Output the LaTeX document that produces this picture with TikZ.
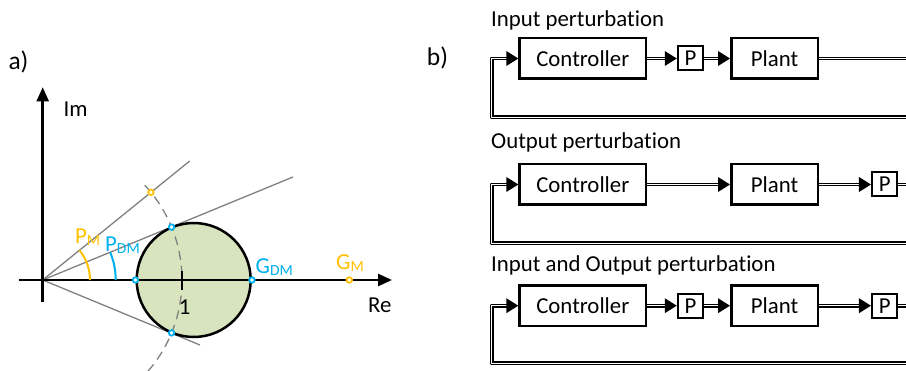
\documentclass[tikz,border=0pt]{standalone}
\usepackage{fontspec}
\setmainfont{Carlito}[Ligatures=NoCommon]
\usetikzlibrary{arrows.meta}
\definecolor{mgold}{HTML}{FFC000}
\definecolor{mblue}{HTML}{00B0F0}
\definecolor{mgreen}{HTML}{D7E4BD}
\definecolor{mgray}{HTML}{808080}
\newcommand\subs[1]{\raisebox{-2pt}{\fontsize{15.5}{15.5}\selectfont #1}}
\newcommand\tipinto[1]{\fill (#1.west) -- ++(-12,7.5) -- ++(0,-15) -- cycle;}
\begin{document}
\begin{tikzpicture}[x=1pt,y=1pt,font=\fontsize{22.8}{27}\selectfont,
  ctrl/.style={draw, line width=2.5pt, minimum width=126.5pt, minimum height=40.5pt, inner sep=0pt},
  plant/.style={draw, line width=2.5pt, minimum width=86.5pt, minimum height=40.5pt, inner sep=0pt},
  pbox/.style={draw, line width=2pt, minimum width=25.5pt, minimum height=24pt, inner sep=0pt},
  dbl/.style={draw=black, double=white, double distance=1.5pt, line width=1.2pt, shorten >=11pt, line join=round},
  axis/.style={line width=2.5pt, -{Triangle[length=14pt,width=12pt]}},
  gline/.style={mgray, line width=1.3pt},
  darc/.style={mgray, line width=1.3pt, dash pattern=on 9pt off 6pt},
  dotb/.style={circle, draw=mblue, fill=white, line width=1.8pt, inner sep=0pt, minimum size=5.5pt},
  doto/.style={circle, draw=mgold, fill=white, line width=1.8pt, inner sep=0pt, minimum size=5.5pt},
  lbl/.style={anchor=base west, inner sep=0pt},
  ttl/.style={anchor=west, inner sep=0pt},
  panel/.style={inner sep=0pt, font=\fontsize{25.5}{30}\selectfont}]
\useasboundingbox (0,0) rectangle (906,370);
\clip (0,0) rectangle (906,370);

% ---------- panel a ----------
\node[panel] (la) at (18.5,308.5) {a)};
\coordinate (O) at (42.7,90);
\coordinate (g1) at (189.6,208.9);
\coordinate (g2) at (293,193);
\coordinate (g3) at (200,25);
\draw[gline] (O) -- (g1);
\draw[gline] (O) -- (g2);
\draw[gline] (O) -- (g3);
\node[circle, draw, fill=mgreen, line width=2.5pt, minimum size=114pt, inner sep=0pt] (disk) at (193.7,90) {};
\draw[darc] (O) ++(-41:139.3) arc[start angle=-41, end angle=44, radius=139.3];
\coordinate (xs) at (19,90);
\coordinate (xe) at (392,90);
\coordinate (ys) at (42.7,68);
\coordinate (ye) at (42.7,282.7);
\draw[axis] (xs) -- (xe);
\draw[axis] (ys) -- (ye);
\coordinate (t1a) at (182,80);
\coordinate (t1b) at (182,99);
\draw[line width=2.5pt] (t1a) -- (t1b);
\draw[mgold, line width=2pt] (O) ++(0:47.3) arc[start angle=0, end angle=39, radius=47.3];
\draw[mblue, line width=2pt] (O) ++(0:73) arc[start angle=0, end angle=22.3, radius=73];
\node[dotb] (d1) at (disk.west) {};
\node[dotb] (d2) at (disk.east) {};
\node[dotb] (d3) at (171.6,142.9) {};
\node[dotb] (d4) at (171.6,37.1) {};
\node[doto] (d5) at (151,177.7) {};
\node[doto] (d6) at (349.3,90) {};
\node[lbl] (lim) at (63.5,253.5) {Im};
\node[lbl] (lre) at (368,57.3) {Re};
\node[anchor=base, inner sep=0pt] (lone) at (184.7,56) {1};
\node[lbl, text=mgold] (lpm) at (75,126) {P\subs{M}};
\node[lbl, text=mblue] (lpdm) at (105,118.3) {P\subs{DM}};
\node[lbl, text=mblue] (lgdm) at (255.5,96.7) {G\subs{DM}};
\node[lbl, text=mgold] (lgm) at (336,100.7) {G\subs{M}};

% ---------- panel b ----------
\node[panel] (lb) at (437.5,311.7) {b)};

% row 1
\node[ttl] (tt1) at (491,349.5) {Input perturbation};
\node[ctrl] (c1) at (582.8,311.5) {Controller};
\node[pbox] (p1) at (690.5,311.5) {P};
\node[plant] (pl1) at (774.5,311.5) {Plant};
\coordinate (e1a) at (915,311.5);
\coordinate (e1b) at (915,252.7);
\coordinate (l1b) at (491.7,252.7);
\coordinate (l1a) at (491.7,311.5);
\draw[dbl] (c1.east) -- (p1.west);
\draw[dbl] (p1.east) -- (pl1.west);
\draw[dbl] (pl1.east) -- (e1a) -- (e1b) -- (l1b) -- (l1a) -- (c1.west);
\tipinto{p1}\tipinto{pl1}\tipinto{c1}

% row 2
\node[ttl] (tt2) at (491,227.5) {Output perturbation};
\node[ctrl] (c2) at (582.8,185.5) {Controller};
\node[plant] (pl2) at (774.5,185.5) {Plant};
\node[pbox] (p2) at (884.7,185.5) {P};
\coordinate (e2a) at (915,185.5);
\coordinate (e2b) at (915,126.7);
\coordinate (l2b) at (491.7,126.7);
\coordinate (l2a) at (491.7,185.5);
\draw[dbl] (c2.east) -- (pl2.west);
\draw[dbl] (pl2.east) -- (p2.west);
\draw[dbl] (p2.east) -- (e2a) -- (e2b) -- (l2b) -- (l2a) -- (c2.west);
\tipinto{pl2}\tipinto{p2}\tipinto{c2}

% row 3
\node[ttl] (tt3) at (491,105) {Input and Output perturbation};
\node[ctrl] (c3) at (582.8,64.3) {Controller};
\node[pbox] (p3) at (690.5,64.3) {P};
\node[plant] (pl3) at (774.5,64.3) {Plant};
\node[pbox] (p4) at (884.7,64.3) {P};
\coordinate (e3a) at (915,64.3);
\coordinate (e3b) at (915,6.7);
\coordinate (l3b) at (491.7,6.7);
\coordinate (l3a) at (491.7,64.3);
\draw[dbl] (c3.east) -- (p3.west);
\draw[dbl] (p3.east) -- (pl3.west);
\draw[dbl] (pl3.east) -- (p4.west);
\draw[dbl] (p4.east) -- (e3a) -- (e3b) -- (l3b) -- (l3a) -- (c3.west);
\tipinto{p3}\tipinto{pl3}\tipinto{p4}\tipinto{c3}
\end{tikzpicture}
\end{document}
